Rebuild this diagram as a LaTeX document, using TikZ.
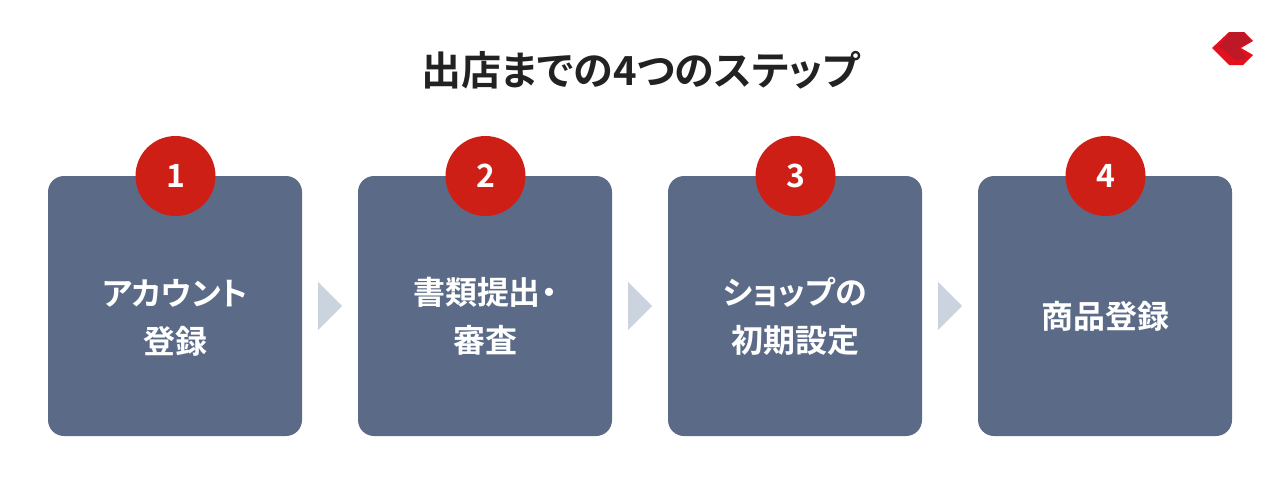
\documentclass[tikz,border=0pt]{standalone}
\usepackage{fontspec}
\usepackage{xcolor}
\usetikzlibrary{shapes.geometric}
\setmainfont{Noto Sans CJK JP}[BoldFont={* Bold},RawFeature={+palt}]
\definecolor{boxc}{HTML}{5B6B87}
\definecolor{numc}{HTML}{CE1F16}
\definecolor{arrc}{HTML}{CBD3DF}
\definecolor{titc}{HTML}{222222}
\definecolor{logoa}{HTML}{E3101E}
\definecolor{logob}{HTML}{BC1826}
\tikzset{stepbox/.style={rectangle, fill=boxc, rounded corners=0.16cm, minimum width=2.54cm, minimum height=2.60cm, inner sep=0pt}}
\tikzset{num/.style={circle, fill=numc, minimum size=0.80cm, inner sep=0pt, text=white, font=\bfseries\fontsize{9.1}{11}\selectfont}}
\tikzset{lab/.style={text=white, align=center, inner sep=0pt, font=\bfseries\fontsize{9.1}{13.66}\selectfont}}
\tikzset{arr/.style={isosceles triangle, isosceles triangle apex angle=90, fill=arrc, minimum height=0.24cm, inner sep=0pt}}

\begin{document}
\begin{tikzpicture}
\useasboundingbox (0,0) rectangle (12.8,4.84);
\node[text=titc, inner sep=0pt, font=\bfseries\fontsize{11.4}{13}\selectfont] (title) at(6.405,4.14) {出店までの4つのステップ};

\node[stepbox] (step1) at(1.75,1.78) {};
\node[stepbox] (step2) at(4.85,1.78) {};
\node[stepbox] (step3) at(7.95,1.78) {};
\node[stepbox] (step4) at(11.05,1.78) {};

\node[num] (num1) at(1.755,3.08) {1};
\node[num] (num2) at(4.855,3.08) {2};
\node[num] (num3) at(7.955,3.08) {3};
\node[num] (num4) at(11.055,3.08) {4};

\node[lab] (lab1) at(1.75,1.665) {アカウント\\登録};
\node[lab] (lab2) at(4.85,1.68) {書類提出・\\審査};
\node[lab] (lab3) at(7.95,1.68) {ショップの\\初期設定};
\node[lab] (lab4) at(11.05,1.68) {商品登録};

\node[arr] (arr1) at(3.28,1.78) {};
\node[arr] (arr2) at(6.38,1.78) {};
\node[arr] (arr3) at(9.48,1.78) {};

% logo
\fill[logoa] (12.12,4.36) -- (12.29,4.52) -- (12.44,4.52) -- (12.53,4.43) -- (12.41,4.36) -- (12.53,4.29) -- (12.43,4.19) -- (12.29,4.19) -- cycle;
\fill[logob] (12.19,4.38) -- (12.31,4.52) -- (12.44,4.52) -- (12.51,4.43) -- (12.38,4.36) -- (12.47,4.26) -- (12.36,4.24) -- cycle;
\end{tikzpicture}
\end{document}
